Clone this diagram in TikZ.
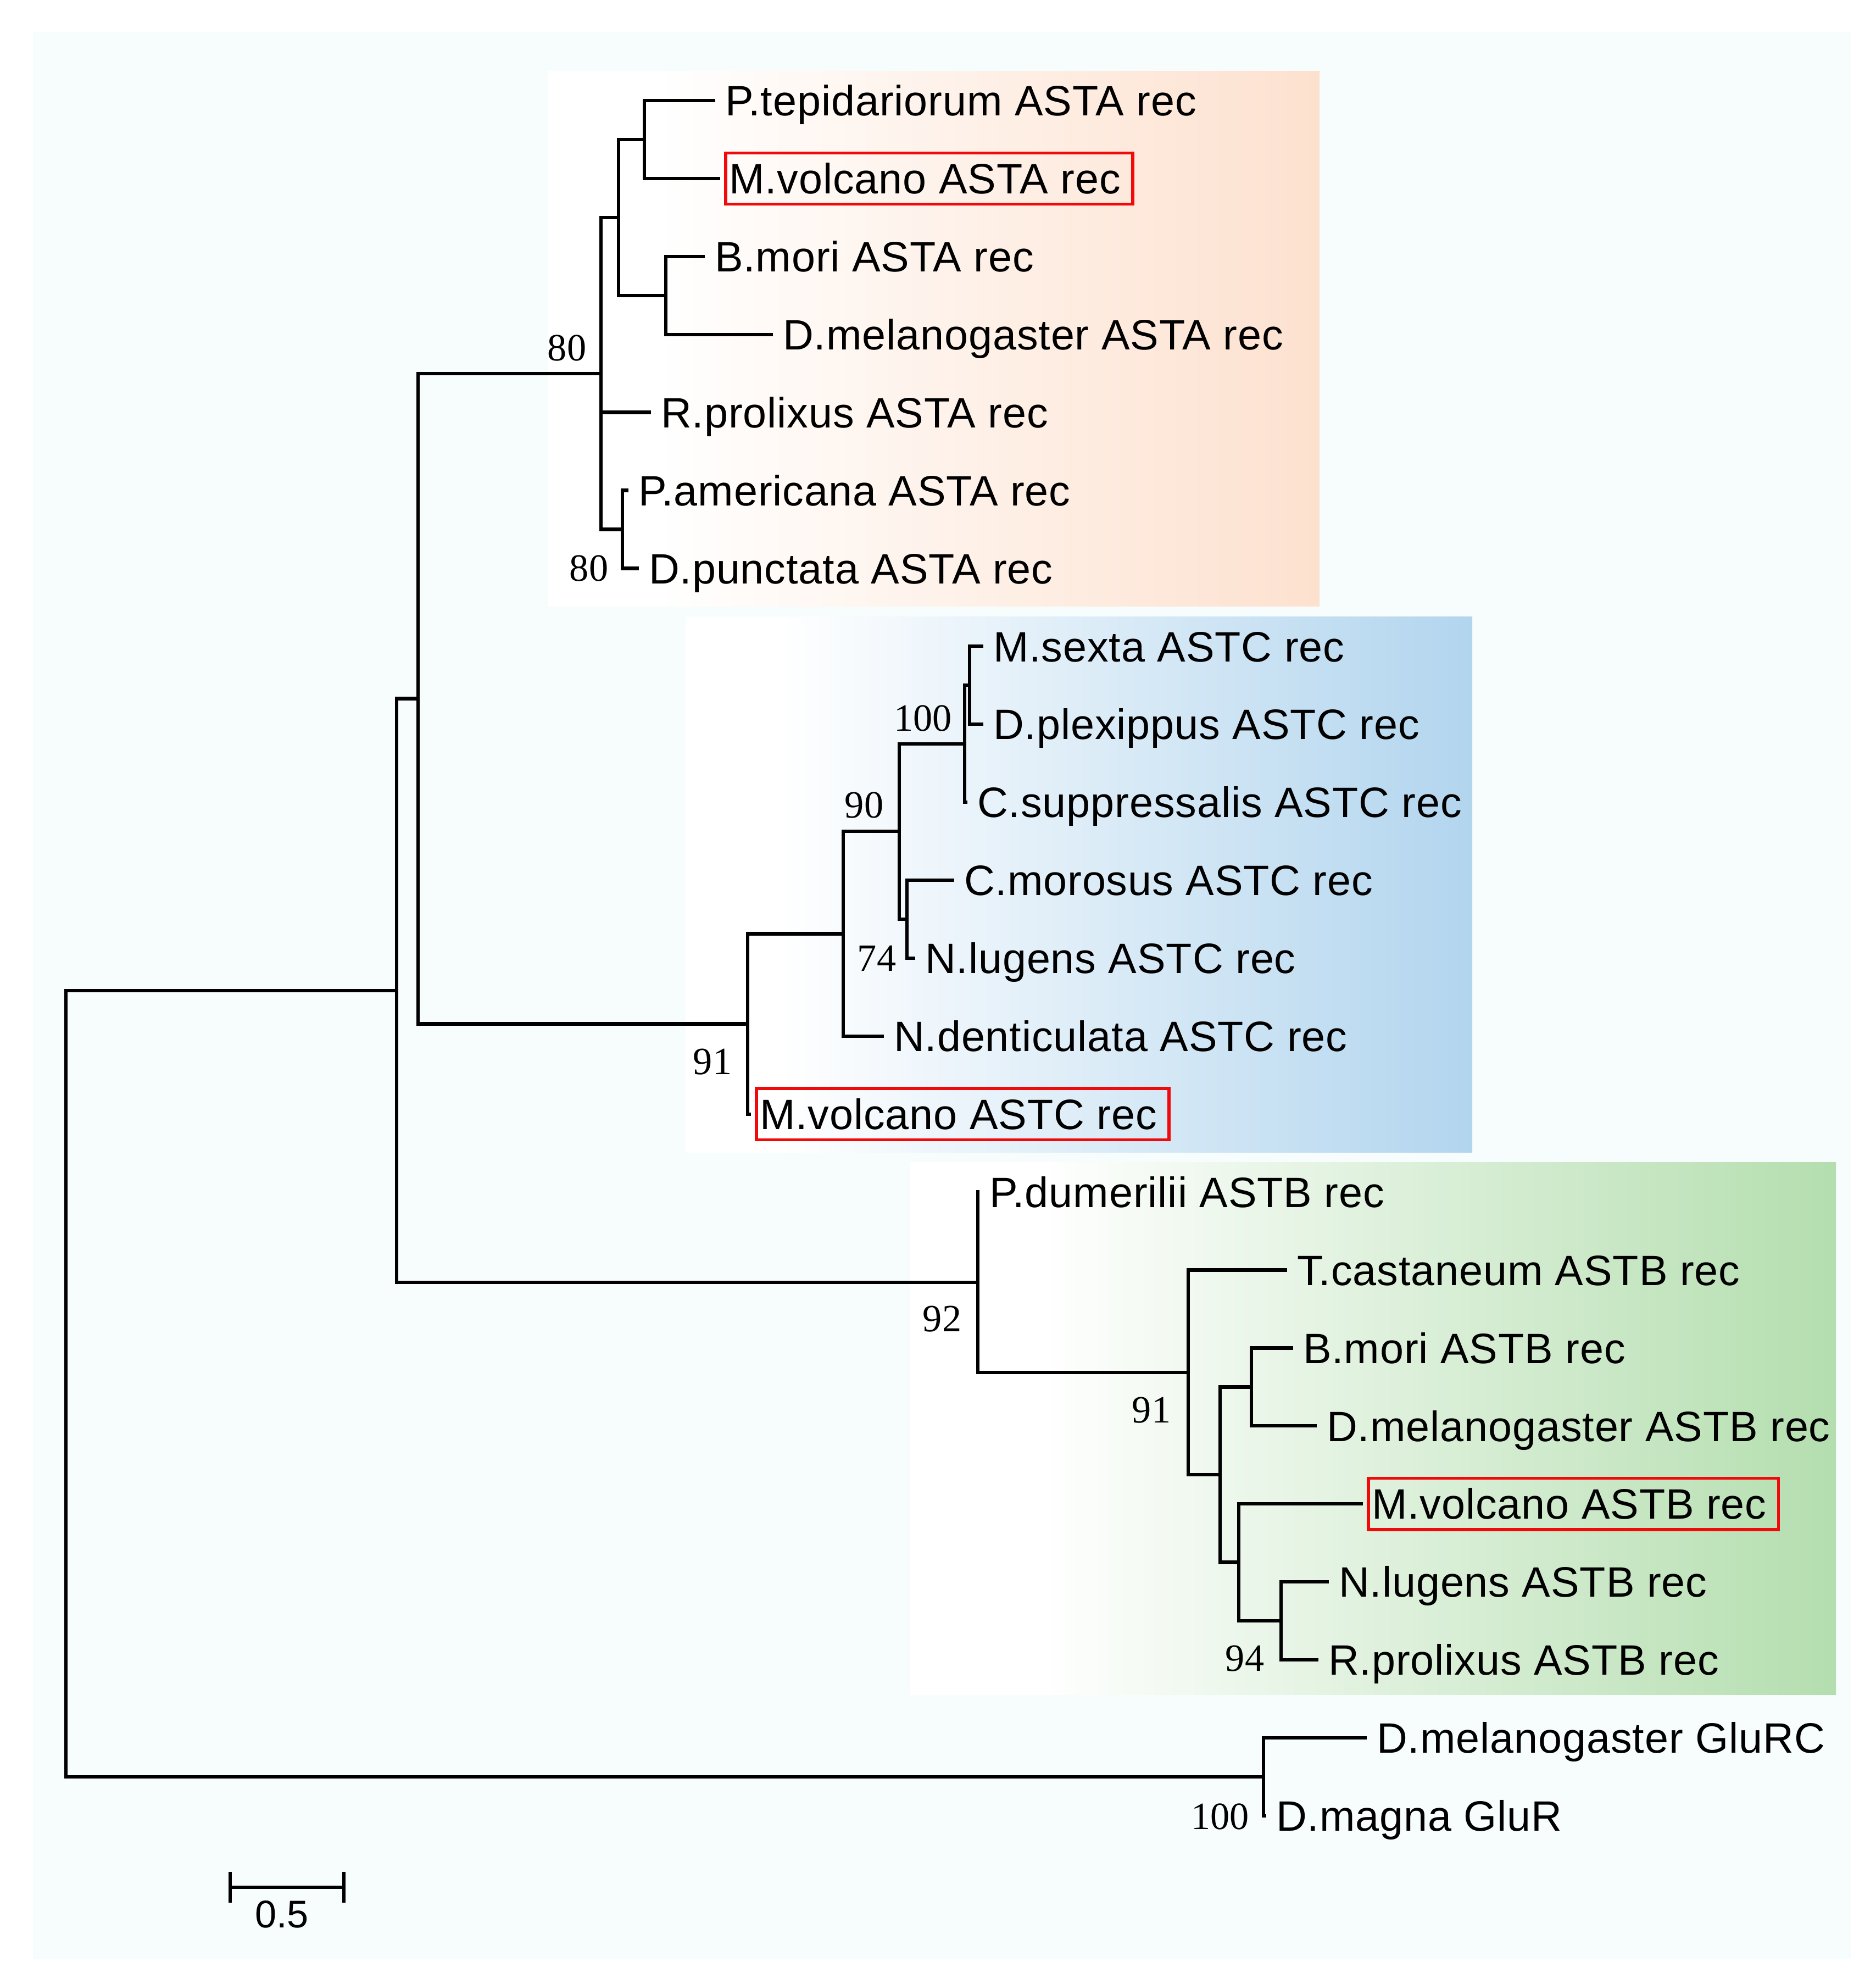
\documentclass[tikz,border=0pt]{standalone}
\usepackage{fontspec}
\newfontfamily\leaffamily[LetterSpace=1.2]{Liberation Sans}
\newfontfamily\barfamily{Liberation Sans}
\newfontfamily\bootfamily{Liberation Serif}
\newcommand{\leaffont}{\leaffamily\fontsize{22}{26}\selectfont}
\newcommand{\bootfont}{\bootfamily\fontsize{20}{24}\selectfont}
\newcommand{\barfont}{\barfamily\fontsize{20}{24}\selectfont}

\definecolor{bgcyan}{RGB}{247,252,253}
\definecolor{astapeach}{RGB}{253,225,207}
\definecolor{astcblue}{RGB}{178,213,238}
\definecolor{astbgreen}{RGB}{180,222,175}
\definecolor{boxred}{RGB}{240,10,10}

\pgfdeclarehorizontalshading{astashade}{100bp}{color(0bp)=(white); color(32bp)=(white); color(75bp)=(astapeach); color(100bp)=(astapeach)}
\pgfdeclarehorizontalshading{astcshade}{100bp}{color(0bp)=(white); color(31bp)=(white); color(75bp)=(astcblue); color(100bp)=(astcblue)}
\pgfdeclarehorizontalshading{astbshade}{100bp}{color(0bp)=(white); color(32bp)=(white); color(75bp)=(astbgreen); color(100bp)=(astbgreen)}

\tikzset{
  leaf/.style={anchor=west, inner xsep=0.18cm, inner ysep=0pt, outer sep=0pt,
    text height=0.555cm, text depth=0pt, font=\leaffont},
  mvbox/.style={leaf, draw=boxred, line width=1.5pt, inner xsep=0.06cm,
    outer xsep=0.1cm, inner ysep=0.19cm, execute at end node={\hspace*{0.16cm}}},
  boot/.style={inner sep=0pt, text height=0.476cm, text depth=0pt, font=\bootfont},
  branch/.style={line width=1.8pt}
}

\begin{document}
\begin{tikzpicture}
			\useasboundingbox (0,0) rectangle (34.15,-36.11);
			
			% Background panels
			\fill[bgcyan] (0.60,-0.58) rectangle (33.70,-35.66);
			\shade[shading=astashade] (9.97,-1.29) rectangle (24.02,-11.03);
			\shade[shading=astcshade] (12.48,-11.22) rectangle (26.80,-20.97);
			\shade[shading=astbshade] (16.56,-21.15) rectangle (33.42,-30.84);
			
			% Define leaves
			\node[leaf] (t0) at (13.02,-1.830) {P.tepidariorum ASTA rec};
			\node[mvbox] (t1) at (13.11,-3.249) {M.volcano ASTA rec};
			\node[leaf] (t2) at (12.83,-4.668) {B.mori ASTA rec};
			\node[leaf] (t3) at (14.07,-6.087) {D.melanogaster ASTA rec};
			\node[leaf] (t4) at (11.85,-7.506) {R.prolixus ASTA rec};
			\node[leaf] (t5) at (11.44,-8.925) {P.americana ASTA rec};
			\node[leaf] (t6) at (11.63,-10.344) {D.punctata ASTA rec};
			\node[leaf] (t7) at (17.90,-11.763) {M.sexta ASTC rec};
			\node[leaf] (t8) at (17.90,-13.182) {D.plexippus ASTC rec};
			\node[leaf] (t9) at (17.61,-14.601) {C.suppressalis ASTC rec};
			\node[leaf] (t10) at (17.37,-16.020) {C.morosus ASTC rec};
			\node[leaf] (t11) at (16.66,-17.439) {N.lugens ASTC rec};
			\node[leaf] (t12) at (16.09,-18.858) {N.denticulata ASTC rec};
			\node[mvbox] (t13) at (13.67,-20.277) {M.volcano ASTC rec};
			\node[leaf] (t14) at (17.83,-21.696) {P.dumerilii ASTB rec};
			\node[leaf] (t15) at (23.43,-23.115) {T.castaneum ASTB rec};
			\node[leaf] (t16) at (23.54,-24.534) {B.mori ASTB rec};
			\node[leaf] (t17) at (23.97,-25.953) {D.melanogaster ASTB rec};
			\node[mvbox] (t18) at (24.81,-27.372) {M.volcano ASTB rec};
			\node[leaf] (t19) at (24.19,-28.791) {N.lugens ASTB rec};
			\node[leaf] (t20) at (24.00,-30.210) {R.prolixus ASTB rec};
			\node[leaf] (t21) at (24.88,-31.629) {D.melanogaster GluRC};
			\node[leaf] (t22) at (23.05,-33.048) {D.magna GluR};
			
			% Define inner nodes
			\coordinate (ROOT) at (1.20,-25.18);
			\coordinate (IN) at (7.22,-18.027);
			\coordinate (AC) at (7.61,-12.716);
			\coordinate (ASTA) at (10.94,-6.797);
			\coordinate (A1) at (11.26,-3.959);
			\coordinate (A11) at (11.73,-2.540);
			\coordinate (A12) at (12.12,-5.378);
			\coordinate (A2) at (11.33,-9.635);
			\coordinate (ASTC) at (13.61,-18.636);
			\coordinate (C1) at (15.35,-16.996);
			\coordinate (C2) at (16.37,-15.133);
			\coordinate (C3) at (17.56,-13.537);
			\coordinate (C5) at (17.65,-12.473);
			\coordinate (C4) at (16.51,-16.730);
			\coordinate (ASTB) at (17.80,-23.337);
			\coordinate (B1) at (21.63,-24.978);
			\coordinate (B2) at (22.21,-26.840);
			\coordinate (B3) at (22.78,-25.244);
			\coordinate (B4) at (22.55,-28.436);
			\coordinate (B5) at (23.32,-29.501);
			\coordinate (GLU) at (23.00,-32.339);
			
			% Draw branches
			\draw[branch] (ROOT) |- (IN);
			\draw[branch] (ROOT) |- (GLU);
			\draw[branch] (IN) |- (AC);
			\draw[branch] (IN) |- (ASTB);
			\draw[branch] (AC) |- (ASTA);
			\draw[branch] (AC) |- (ASTC);
			\draw[branch] (ASTA) |- (A1);
			\draw[branch] (ASTA) |- (t4);
			\draw[branch] (ASTA) |- (A2);
			\draw[branch] (A1) |- (A11);
			\draw[branch] (A1) |- (A12);
			\draw[branch] (A11) |- (t0);
			\draw[branch] (A11) |- (t1);
			\draw[branch] (A12) |- (t2);
			\draw[branch] (A12) |- (t3);
			\draw[branch] (A2) |- (t5);
			\draw[branch] (A2) |- (t6);
			\draw[branch] (ASTC) |- (C1);
			\draw[branch] (ASTC) |- (t13);
			\draw[branch] (C1) |- (C2);
			\draw[branch] (C1) |- (t12);
			\draw[branch] (C2) |- (C3);
			\draw[branch] (C2) |- (C4);
			\draw[branch] (C3) |- (C5);
			\draw[branch] (C3) |- (t9);
			\draw[branch] (C5) |- (t7);
			\draw[branch] (C5) |- (t8);
			\draw[branch] (C4) |- (t10);
			\draw[branch] (C4) |- (t11);
			\draw[branch] (ASTB) |- (t14);
			\draw[branch] (ASTB) |- (B1);
			\draw[branch] (B1) |- (t15);
			\draw[branch] (B1) |- (B2);
			\draw[branch] (B2) |- (B3);
			\draw[branch] (B2) |- (B4);
			\draw[branch] (B3) |- (t16);
			\draw[branch] (B3) |- (t17);
			\draw[branch] (B4) |- (t18);
			\draw[branch] (B4) |- (B5);
			\draw[branch] (B5) |- (t19);
			\draw[branch] (B5) |- (t20);
			\draw[branch] (GLU) |- (t21);
			\draw[branch] (GLU) |- (t22);
			
			% Bootstrap values
			\node[boot] (bsASTA) at (10.32,-6.33) {80};
			\node[boot] (bsA2) at (10.72,-10.34) {80};
			\node[boot] (bsC3) at (16.80,-13.07) {100};
			\node[boot] (bsC2) at (15.73,-14.65) {90};
			\node[boot] (bsC4) at (15.96,-17.44) {74};
			\node[boot] (bsASTC) at (12.97,-19.32) {91};
			\node[boot] (bsASTB) at (17.15,-24.00) {92};
			\node[boot] (bsB1) at (20.96,-25.66) {91};
			\node[boot] (bsB5) at (22.66,-30.18) {94};
			\node[boot] (bsGLU) at (22.21,-33.06) {100};
			
			% Scale bar
			\coordinate (sbL) at (4.19,-34.35);
			\coordinate (sbR) at (6.26,-34.35);
			\draw[branch] (sbL) -- (sbR);
			\draw[branch] ([yshift=0.28cm]sbL) -- ([yshift=-0.28cm]sbL);
			\draw[branch] ([yshift=0.28cm]sbR) -- ([yshift=-0.28cm]sbR);
			\node[inner sep=0pt, text height=0.505cm, text depth=0pt, font=\barfont] (sbText) at (5.13,-34.83) {0.5};
		\end{tikzpicture}
\end{document}
